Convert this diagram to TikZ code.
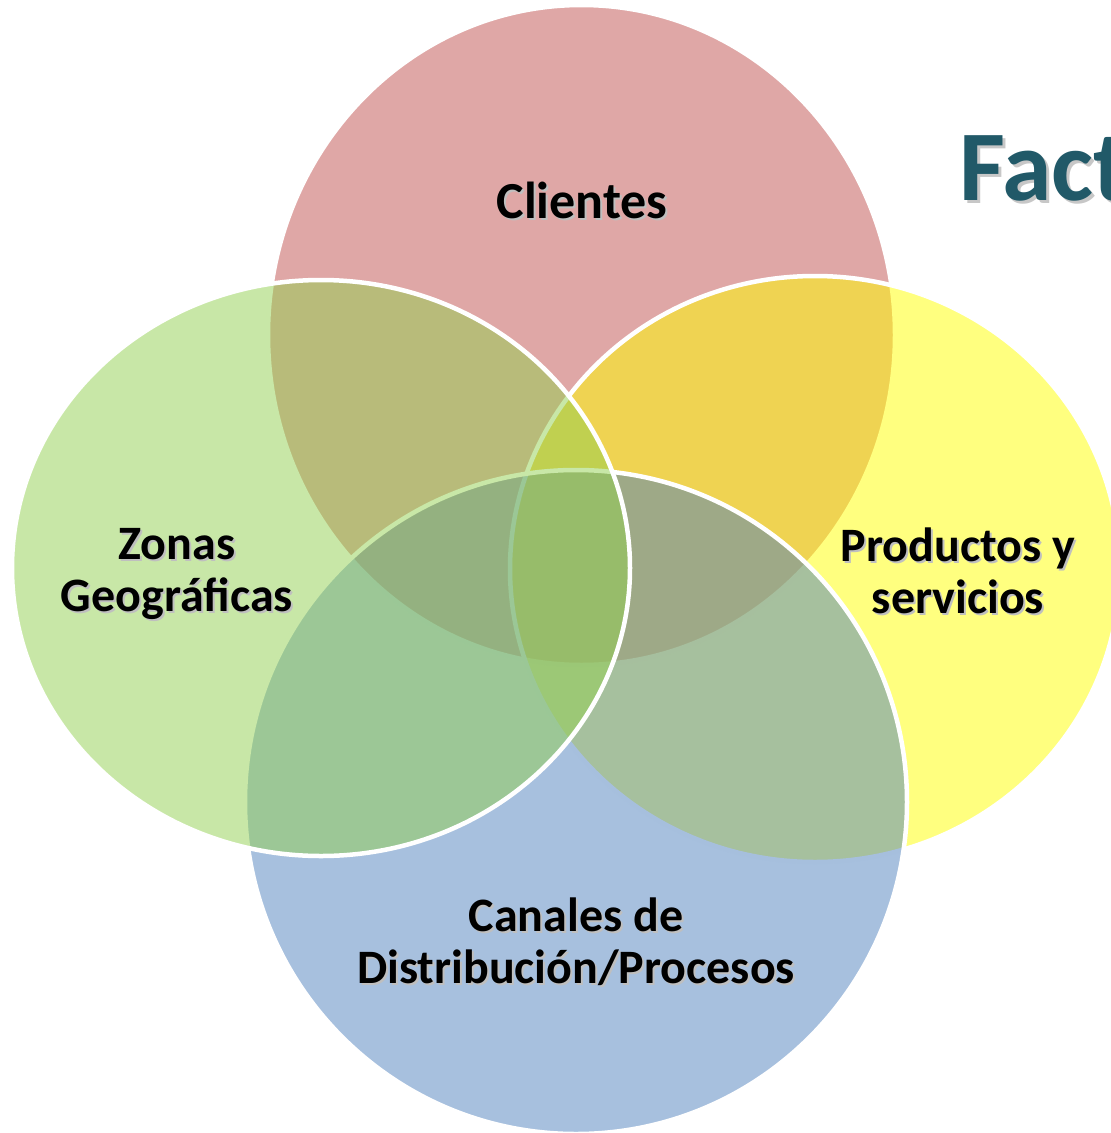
\documentclass[tikz,border=0pt]{standalone}
\usepackage{fontspec}
\setmainfont{Carlito}
\definecolor{cred}{HTML}{C0504D}
\definecolor{cyel}{HTML}{FFFF00}
\definecolor{cblu}{HTML}{4F81BD}
\definecolor{cgrn}{HTML}{92D050}
\definecolor{ctitle}{HTML}{215968}
\begin{document}
\begin{tikzpicture}[x=1pt,y=-1pt,
  venn/.style={draw=white, line width=4.5pt, fill opacity=0.5},
  lbl/.style={font=\bfseries\fontsize{48}{52}\selectfont, align=center, text=black, inner sep=0pt},
  lblsh/.style={lbl, text=black!25},
  big/.style={font=\bfseries\fontsize{52}{56}\selectfont},
  ttl/.style={font=\bfseries\fontsize{100}{110}\selectfont, text=ctitle, inner sep=0pt, anchor=base west},
  ttlsh/.style={ttl, text=black!22}]
\useasboundingbox (0,0) rectangle (1111,1133);
\clip (0,0) rectangle (1111,1133);
\path[venn, fill=cred] (581.5,335) ellipse [x radius=313.5pt, y radius=330pt];
\path[venn, fill=cyel] (815,569) ellipse [x radius=305pt, y radius=293pt];
\path[venn, fill=cblu] (576,802) ellipse [x radius=331pt, y radius=332pt];
\path[venn, fill=cgrn] (321,568) ellipse [x radius=309pt, y radius=288pt];
% title
\node[ttlsh] (titleS) at (962,203) {Fact};
\node[ttl] (title) at (959,200) {Fact};
% labels
\node[lblsh, big] (clientesS) at (584,202) {Clientes};
\node[lbl, big] (clientes) at (582,200) {Clientes};
\node[lblsh] (zonasS) at (179,576) {Zonas\\Geográficas};
\node[lbl] (zonas) at (177,574) {Zonas\\Geográficas};
\node[lblsh] (productosS) at (960,573) {Productos y\\servicios};
\node[lbl] (productos) at (958,571) {Productos y\\servicios};
\node[lblsh] (canalesS) at (578,944) {Canales de\\Distribución/Procesos};
\node[lbl] (canales) at (576,942) {Canales de\\Distribución/Procesos};
\end{tikzpicture}
\end{document}
